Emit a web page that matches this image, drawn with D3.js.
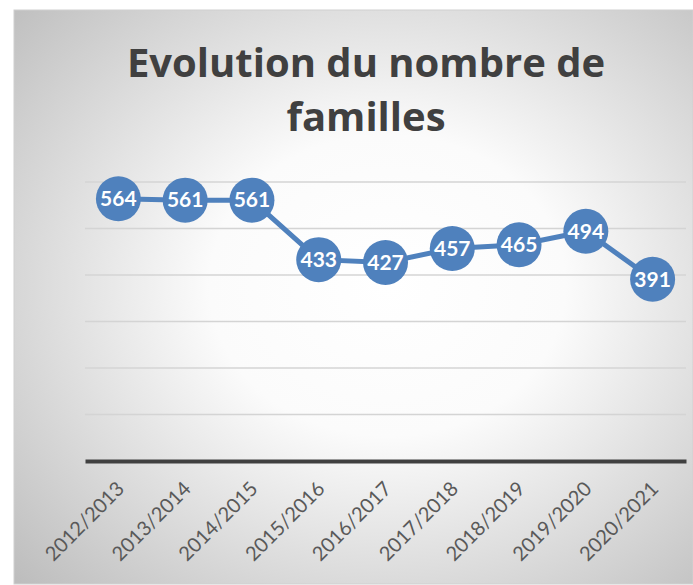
<!DOCTYPE html>
<html>
<head>
<meta charset="utf-8">
<script src="https://cdn.jsdelivr.net/npm/d3@7"></script>
<style>
  body { margin: 0; background: #fff; }
  svg { display: block; }
  text { font-variant-ligatures: none; }
</style>
</head>
<body>
<div id="chart"></div>
<script>
const seasons = ["2012/2013", "2013/2014", "2014/2015", "2015/2016", "2016/2017",
                 "2017/2018", "2018/2019", "2019/2020", "2020/2021"];
const families = [564, 561, 561, 433, 427, 457, 465, 494, 391];
const yTicks = [0, 100, 200, 300, 400, 500, 600];

const width = 693, height = 585;
const margin = { top: 182, bottom: 124, left: 85, right: 7 };
const blue = "#4f81bd";

const svg = d3.select("#chart").append("svg")
    .attr("width", width)
    .attr("height", height);

// background panel with radial gradient
const grad = svg.append("defs").append("radialGradient")
    .attr("id", "bg")
    .attr("cx", "55%").attr("cy", "48%").attr("r", "75%");
grad.append("stop").attr("offset", "0%").attr("stop-color", "#ffffff");
grad.append("stop").attr("offset", "35%").attr("stop-color", "#fbfbfb");
grad.append("stop").attr("offset", "100%").attr("stop-color", "#bdbdbd");

svg.append("rect")
    .attr("x", 14).attr("y", 10)
    .attr("width", width - 14).attr("height", height - 11)
    .attr("fill", "url(#bg)")
    .attr("stroke", "#d0d0d0");

// title
svg.append("g")
    .attr("font-family", "'Open Sans', Lato, sans-serif")
    .attr("font-weight", "bold")
    .attr("font-size", 40)
    .attr("fill", "#404040")
    .attr("text-anchor", "middle")
    .selectAll("text")
    .data(["Evolution du nombre de", "familles"])
    .join("text")
    .attr("x", 366)
    .attr("y", (d, i) => 77 + i * 54)
    .text(d => d);

const x = d3.scaleBand()
    .domain(seasons)
    .range([margin.left, width - margin.right]);

const y = d3.scaleLinear()
    .domain([0, 600])
    .range([height - margin.bottom, margin.top]);

// gridlines
svg.append("g")
    .selectAll("line")
    .data(yTicks.slice(1))
    .join("line")
    .attr("x1", margin.left)
    .attr("x2", width - margin.right)
    .attr("y1", d => y(d))
    .attr("y2", d => y(d))
    .attr("stroke", "#d4d4d4")
    .attr("stroke-width", 1.5);

// x axis
const xAxis = svg.append("g")
    .attr("transform", "translate(0 " + y(0) + ")")
    .call(d3.axisBottom(x).tickSize(0));
xAxis.select(".domain")
    .attr("stroke", "#404040")
    .attr("stroke-width", 4);
xAxis.selectAll("text")
    .attr("font-family", "Lato, 'Open Sans', sans-serif")
    .attr("font-size", 20)
    .attr("fill", "#595959")
    .attr("text-anchor", "end")
    .attr("dy", null)
    .attr("transform", "translate(5 27) rotate(-45)");

// line
svg.append("path")
    .datum(families)
    .attr("fill", "none")
    .attr("stroke", blue)
    .attr("stroke-width", 5)
    .attr("d", d3.line()
        .x((d, i) => x(seasons[i]) + x.bandwidth() / 2)
        .y(d => y(d)));

// markers
const pts = svg.append("g")
    .selectAll("g")
    .data(families)
    .join("g")
    .attr("transform", (d, i) => "translate(" + (x(seasons[i]) + x.bandwidth() / 2) + " " + y(d) + ")");

pts.append("circle")
    .attr("r", 22.5)
    .attr("fill", blue);

pts.append("text")
    .attr("text-anchor", "middle")
    .attr("dy", "0.35em")
    .attr("font-family", "Lato, 'Open Sans', sans-serif")
    .attr("font-weight", "bold")
    .attr("font-size", 21)
    .attr("fill", "#ffffff")
    .text(d => d);
</script>
</body>
</html>
